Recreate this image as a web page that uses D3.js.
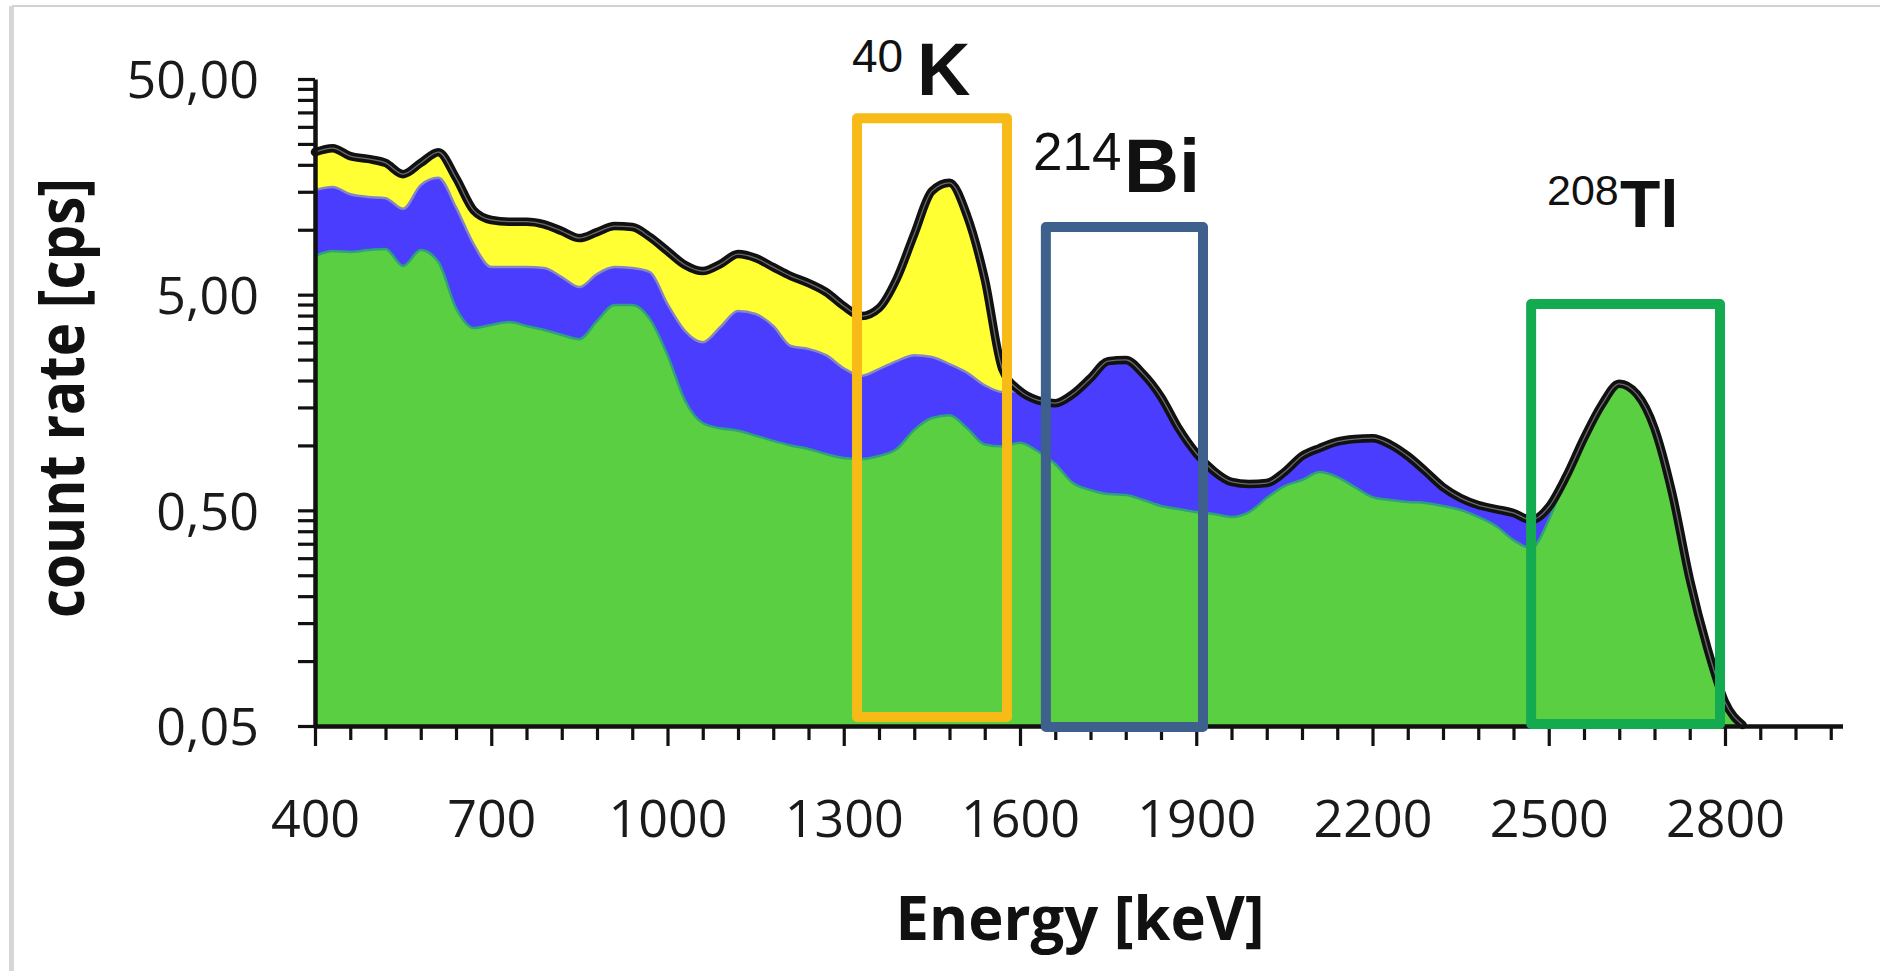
<!DOCTYPE html>
<html>
<head>
<meta charset="utf-8">
<script src="https://cdn.jsdelivr.net/npm/d3@7"></script>
<style>
  html, body { margin: 0; padding: 0; background: #ffffff; }
  svg { display: block; }
</style>
</head>
<body>
<svg id="chart" width="1880" height="971"></svg>
<script>
// Gamma spectrum, channel energies in keV (30 keV bins)
const energy = [400,430,460,490,520,550,580,610,640,670,700,730,760,790,820,850,880,910,940,970,
  1000,1030,1060,1090,1120,1150,1180,1210,1240,1270,1300,1330,1360,1390,1420,1450,1480,1510,1540,1570,
  1600,1630,1660,1690,1720,1750,1780,1810,1840,1870,1900,1930,1960,1990,2020,2050,2080,2110,2140,2170,
  2200,2230,2260,2290,2320,2350,2380,2410,2440,2470,2500,2530,2560,2590,2620,2650,2680,2710,2740,2770,
  2800,2830];

// Count-rate contributions [cps], stacked bottom to top
const thorium = [7.55,7.96,7.88,8.05,8.14,6.79,8.05,7.08,4.33,3.50,
  3.62,3.73,3.58,3.43,3.25,3.11,3.77,4.48,4.48,3.85,
  2.62,1.61,1.27,1.20,1.17,1.11,1.05,1.00,0.962,0.912,
  0.874,0.864,0.893,0.962,1.18,1.34,1.38,1.20,1.01,0.99,
  1.03,0.94,0.82,0.669,0.621,0.595,0.589,0.558,0.524,0.507,
  0.491,0.481,0.466,0.491,0.570,0.648,0.691,0.752,0.713,0.641,
  0.576,0.558,0.547,0.541,0.524,0.502,0.466,0.423,0.364,0.334,
  0.451,0.721,1.08,1.54,1.93,1.73,1.20,0.602,0.240,0.115,
  0.0646,0.0505];

const uranium = [7.75,7.84,6.72,6.15,5.86,5.71,8.05,10.32,8.37,5.08,
  3.09,2.98,3.13,3.21,2.78,2.31,2.46,2.23,2.16,2.51,
  1.90,1.78,1.74,2.34,3.03,2.96,2.53,1.89,1.838,1.708,
  1.406,1.236,1.367,1.498,1.44,1.23,1.00,0.97,0.89,0.78,
  0.76,0.68,0.75,1.061,1.429,1.865,1.901,1.582,1.156,0.693,
  0.429,0.279,0.211,0.171,0.099,0.104,0.202,0.220,0.327,0.429,
  0.504,0.452,0.346,0.219,0.117,0.068,0.063,0.084,0.122,0.117,
  0.067,0,0,0,0,0,0,0,0,0,
  0,0];

const potassium = [7.6,8.1,7.35,7.1,6.4,5.6,4.3,5.5,4.7,3.72,
  4.39,4.19,4.19,3.96,3.83,3.73,3.52,3.69,3.66,2.89,
  3.44,3.47,3.42,3.39,3.51,3.32,3.13,3.21,2.86,2.52,
  2.15,1.88,2.07,3.45,6.93,12.53,14.12,9.43,4.01,0.49,
  0,0,0,0,0,0,0,0,0,0,
  0,0,0,0,0,0,0,0,0,0,
  0,0,0,0,0,0,0,0,0,0,
  0,0,0,0,0,0,0,0,0,0,
  0,0];

// Axis labels
const xLabelValues = [400,700,1000,1300,1600,1900,2200,2500,2800];
const yLabelValues = [0.05,0.5,5,50];

// Energy windows of the marked photopeaks (keV, cps)
const windowNuclide = ["K","Bi","Tl"];
const windowMass = ["40","214","208"];
const windowLow = [1322.6,1644,2470];
const windowHigh = [1577.9,1911.5,2791.5];
const windowTop = [32.9,10.3,4.52];
const windowBottom = [0.055,0.0495,0.0511];

// ---- styling / layout ----
const colors = { th: "#5bcf42", u: "#4a3dfd", k: "#ffff33" };
const windowColors = ["#f8ba16", "#3d608c", "#14aa50"];
const labelLayout = [
  { mx: 852,  my: 72,  ms: 46, sx: 917,  sy: 95,  ss: 74 },
  { mx: 1033, my: 170, ms: 53, sx: 1124, sy: 192, ss: 76 },
  { mx: 1547, my: 205, ms: 43, sx: 1620, sy: 227, ss: 66 }
];

const svg = d3.select("#chart");

// page frame
svg.append("line").attr("x1", 12).attr("x2", 1880).attr("y1", 6).attr("y2", 6)
  .attr("stroke", "#d2d2d2").attr("stroke-width", 2);
svg.append("rect").attr("x", 9).attr("y", 6).attr("width", 5).attr("height", 965)
  .attr("fill", "#d6d6d6");

const x = d3.scaleLinear().domain([400, 3000]).range([315, 1842.5]);
const y = d3.scaleLog().domain([0.05, 50]).range([726, 79]);

const rows = energy.map((e, i) => ({ e, th: thorium[i], u: uranium[i], k: potassium[i] }));
const series = d3.stack().keys(["th", "u", "k"])(rows);
const floorV = v => Math.max(v, 0.05);

const area = d3.area()
  .x(d => x(d.data.e))
  .y0(d => y(floorV(d[0])))
  .y1(d => y(floorV(d[1])))
  .curve(d3.curveMonotoneX);

const topLine = d3.line()
  .x(d => x(d.data.e))
  .y(d => y(floorV(d[1])))
  .curve(d3.curveMonotoneX);

const gPlot = svg.append("g");
gPlot.selectAll("path.layer").data(series).enter().append("path")
  .attr("class", "layer")
  .attr("d", area)
  .attr("fill", s => colors[s.key]);

// layer boundaries
gPlot.append("path").attr("d", topLine(series[0]))
  .attr("fill", "none").attr("stroke", "#2ea37a").attr("stroke-width", 2.5);
gPlot.append("path").attr("d", topLine(series[1]))
  .attr("fill", "none").attr("stroke", "#8686c6").attr("stroke-width", 2.5);
// total spectrum outline
gPlot.append("path").attr("d", topLine(series[2]))
  .attr("fill", "none").attr("stroke", "#111").attr("stroke-width", 8.5)
  .attr("stroke-linejoin", "round").attr("stroke-linecap", "round");
gPlot.append("path").attr("d", topLine(series[2]))
  .attr("fill", "none").attr("stroke", "#6a6a6a").attr("stroke-width", 1.3);

// ---- axes ----
const xTicks = d3.range(400, 3000, 60);
const isMajorX = d => xLabelValues.includes(d);
const gx = svg.append("g").attr("transform", "translate(0,726)")
  .call(d3.axisBottom(x).tickValues(xTicks).tickSize(14).tickSizeOuter(0)
    .tickFormat(d => isMajorX(d) ? String(d) : ""));
gx.selectAll(".tick").filter(d => isMajorX(d)).select("line").attr("y2", 20);
gx.selectAll(".tick line").attr("stroke", "#111").attr("stroke-width", 3.2);
gx.select(".domain").attr("stroke", "#111").attr("stroke-width", 4.5);
gx.selectAll(".tick text")
  .attr("y", 111).attr("dy", 0)
  .attr("fill", "#1a1a1a")
  .style("font-family", "'Open Sans', 'Noto Sans', sans-serif")
  .style("font-size", "52px").style("font-weight", 400);

const yTicks = [];
[0.05, 0.5, 5].forEach(b => { for (let k = 1; k <= 9; k++) yTicks.push(b * k); });
yTicks.push(50);
const isLabelY = d => yLabelValues.some(v => Math.abs(v - d) / v < 1e-6);
const locale = d3.formatLocale({ decimal: ",", thousands: ".", grouping: [3], currency: ["", ""] });
const fmtY = locale.format(".2f");
const gy = svg.append("g").attr("transform", "translate(315,0)")
  .call(d3.axisLeft(y).tickValues(yTicks).tickSize(17).tickSizeOuter(0).tickPadding(39)
    .tickFormat(d => isLabelY(d) ? fmtY(d) : ""));
gy.selectAll(".tick line").attr("stroke", "#111").attr("stroke-width", 3.2);
gy.select(".domain").attr("stroke", "#111").attr("stroke-width", 4.5);
gy.selectAll(".tick text")
  .attr("dy", "0.36em")
  .attr("fill", "#1a1a1a")
  .style("font-family", "'Open Sans', 'Noto Sans', sans-serif")
  .style("font-size", "52px").style("font-weight", 400);

// ---- photopeak windows ----
const gWin = svg.append("g");
windowNuclide.forEach((n, i) => {
  gWin.append("rect")
    .attr("x", x(windowLow[i]))
    .attr("y", y(windowTop[i]))
    .attr("width", x(windowHigh[i]) - x(windowLow[i]))
    .attr("height", y(windowBottom[i]) - y(windowTop[i]))
    .attr("fill", "none")
    .attr("stroke", windowColors[i])
    .attr("stroke-width", 10)
    .attr("stroke-linejoin", "round");
  const L = labelLayout[i];
  gWin.append("text").attr("x", L.mx).attr("y", L.my)
    .style("font-family", "'Liberation Sans', Arial, sans-serif")
    .style("font-size", L.ms + "px").attr("fill", "#111")
    .text(windowMass[i]);
  gWin.append("text").attr("x", L.sx).attr("y", L.sy)
    .style("font-family", "'Liberation Sans', Arial, sans-serif")
    .style("font-size", L.ss + "px").style("font-weight", 700).attr("fill", "#111")
    .text(n);
});

// ---- axis titles ----
svg.append("text")
  .attr("x", 1080).attr("y", 940)
  .attr("text-anchor", "middle")
  .attr("textLength", 369).attr("lengthAdjust", "spacingAndGlyphs")
  .style("font-family", "'Open Sans', 'Noto Sans', sans-serif")
  .style("font-size", "60px").style("font-weight", 700).attr("fill", "#111")
  .text("Energy [keV]");

svg.append("text")
  .attr("transform", "translate(84,398) rotate(-90)")
  .attr("text-anchor", "middle")
  .attr("textLength", 440).attr("lengthAdjust", "spacingAndGlyphs")
  .style("font-family", "'Open Sans', 'Noto Sans', sans-serif")
  .style("font-size", "64px").style("font-weight", 700).attr("fill", "#111")
  .text("count rate [cps]");
</script>
</body>
</html>
